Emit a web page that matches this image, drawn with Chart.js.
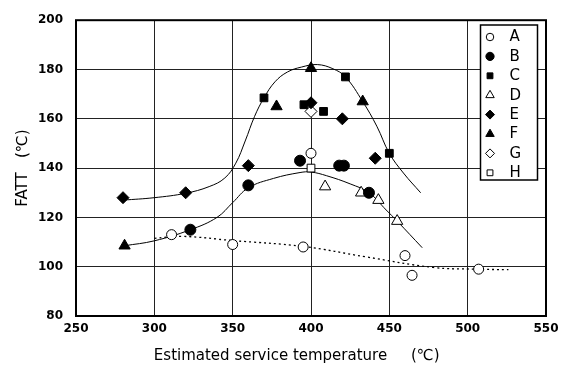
<!DOCTYPE html>
<html>
<head>
<meta charset="utf-8">
<script src="https://cdn.jsdelivr.net/npm/chart.js"></script>
<style>
  html, body { margin: 0; padding: 0; background: #fff; }
  #wrap { width: 565px; height: 374px; }
</style>
</head>
<body>
<div id="wrap"><canvas id="fatt"></canvas></div>
<script>
// measured FATT values, [service temperature, FATT]
const seriesA = [[311, 113], [350, 109], [395, 108], [400, 146], [460, 104.5], [464.5, 96.5], [507, 99]];
const seriesB = [[323, 115], [360, 133], [393, 143], [418, 141], [421, 141], [437, 130]];
const seriesC = [[370, 168.5], [395.5, 165.7], [408, 163], [422, 177], [450, 146]];
const seriesD = [[409, 132.5], [432, 130], [443, 127], [455, 118.5]];
const seriesE = [[280, 128], [320, 130], [360, 141], [400, 166.5], [420, 160], [441, 144]];
const seriesF = [[281, 108.5], [378, 165], [400, 180.5], [433, 167]];
const seriesG = [[400, 163]];
const seriesH = [[400, 140]];

// hand-drawn trend curves
const upperCurve = [[280, 127], [300, 128], [320, 129.8], [335, 132.5], [345, 136], [352, 142], [358, 151], [364, 161], [370, 168.5],
  [377, 175], [385, 179], [394, 181], [404, 182], [414, 180.3], [422, 177], [433, 167], [442, 157], [450, 146], [459, 138], [470, 130]];
const middleCurve = [[281, 108.5], [300, 110.5], [323, 115], [340, 120], [350, 126], [360, 132], [376, 135.8], [393, 138.2],
  [400, 138.4], [410, 136.9], [425, 133.6], [437, 130], [448, 123], [455, 118.5], [471, 107.7]];
const dottedCurve = [[300, 111.5], [318, 112.3], [350, 110.6], [395, 108.2], [435, 104], [478, 99.7], [505, 99], [526, 98.8]];

const xTicks = [250, 300, 350, 400, 450, 500, 550];
const yTicks = [80, 100, 120, 140, 160, 180, 200];

const toXY = arr => arr.map(p => ({ x: p[0], y: p[1] }));

const markers = [
  { label: 'A', data: seriesA, style: 'circle', radius: 5, fill: '#fff' },
  { label: 'B', data: seriesB, style: 'circle', radius: 5.5, fill: '#000' },
  { label: 'C', data: seriesC, style: 'rect', radius: 5.5, fill: '#000' },
  { label: 'D', data: seriesD, style: 'triangle', radius: 6.5, fill: '#fff' },
  { label: 'E', data: seriesE, style: 'rectRot', radius: 6, fill: '#000' },
  { label: 'F', data: seriesF, style: 'triangle', radius: 6.5, fill: '#000' },
  { label: 'G', data: seriesG, style: 'rectRot', radius: 6, fill: '#fff' },
  { label: 'H', data: seriesH, style: 'rect', radius: 5.5, fill: '#fff' },
];

const curve = (data, dash) => ({
  data: toXY(data),
  showLine: true,
  pointRadius: 0,
  borderColor: '#000',
  borderWidth: dash ? 1.3 : 1,
  borderDash: dash || [],
  tension: 0.4,
  fill: false,
});

const datasets = markers.map(m => ({
  label: m.label,
  data: toXY(m.data),
  pointStyle: m.style,
  pointRadius: m.radius,
  pointHoverRadius: m.radius,
  pointBackgroundColor: m.fill,
  pointBorderColor: '#000',
  pointBorderWidth: 1,
  showLine: false,
}));
datasets.push(curve(upperCurve), curve(middleCurve), curve(dottedCurve, [2, 3]));

// heavy frame round the plot area
const framePlugin = {
  id: 'frame',
  afterDatasetsDraw(chart) {
    const { ctx, chartArea: a } = chart;
    ctx.save();
    ctx.strokeStyle = '#000';
    ctx.lineWidth = 2;
    ctx.strokeRect(a.left, a.top, a.right - a.left, a.bottom - a.top);
    ctx.restore();
  }
};

// boxed key in the upper right corner
const keyPlugin = {
  id: 'key',
  afterDraw(chart) {
    const ctx = chart.ctx;
    const box = { x: 480.5, y: 25, w: 57, h: 155 };
    ctx.save();
    ctx.fillStyle = '#fff';
    ctx.fillRect(box.x, box.y, box.w, box.h);
    ctx.strokeStyle = '#000';
    ctx.lineWidth = 1.5;
    ctx.strokeRect(box.x, box.y, box.w, box.h);
    ctx.font = '15px "DejaVu Sans"';
    ctx.textBaseline = 'middle';
    markers.forEach((m, i) => {
      const y = 37 + i * 19.4;
      ctx.fillStyle = m.fill;
      ctx.strokeStyle = '#000';
      ctx.lineWidth = 1;
      Chart.helpers.drawPoint(ctx, {
        pointStyle: m.style,
        radius: m.radius * 0.75,
        rotation: 0,
        borderWidth: 1
      }, 490, y);
      ctx.fillStyle = '#000';
      ctx.fillText(m.label, 509.5, y + 0.5);
    });
    ctx.restore();
  }
};

new Chart(document.getElementById('fatt'), {
  type: 'scatter',
  data: { datasets },
  options: {
    responsive: true,
    maintainAspectRatio: false,
    animation: false,
    layout: { padding: { top: 15, right: 19, left: 0, bottom: 0 } },
    plugins: {
      legend: { display: false },
      tooltip: { enabled: false },
    },
    scales: {
      x: {
        type: 'linear',
        min: 250,
        max: 550,
        afterFit: s => { s.height = 58; },
        afterBuildTicks: s => { s.ticks = xTicks.map(v => ({ value: v })); },
        ticks: {
          color: '#000',
          padding: 6,
          font: { family: 'DejaVu Sans', size: 12, weight: 'bold' },
        },
        grid: { color: '#222', lineWidth: 1, drawTicks: false },
        border: { display: false },
        title: {
          display: true,
          // trailing blanks pull the centred title a little to the left
          text: 'Estimated service temperature     (℃)      ',
          color: '#000',
          font: { family: 'DejaVu Sans', size: 15 },
          padding: { top: 0, bottom: 9 },
        },
      },
      y: {
        type: 'linear',
        min: 80,
        max: 200,
        afterFit: s => { s.width = 76; },
        afterBuildTicks: s => { s.ticks = yTicks.map(v => ({ value: v })); },
        ticks: {
          color: '#000',
          padding: 13,
          font: { family: 'DejaVu Sans', size: 12, weight: 'bold' },
        },
        grid: { color: '#222', lineWidth: 1, drawTicks: false },
        border: { display: false },
        title: {
          display: true,
          text: 'FATT   (℃)',
          color: '#000',
          font: { family: 'DejaVu Sans', size: 15 },
          padding: { top: 14, bottom: 0 },
        },
      },
    },
  },
  plugins: [framePlugin, keyPlugin],
});
</script>
</body>
</html>
